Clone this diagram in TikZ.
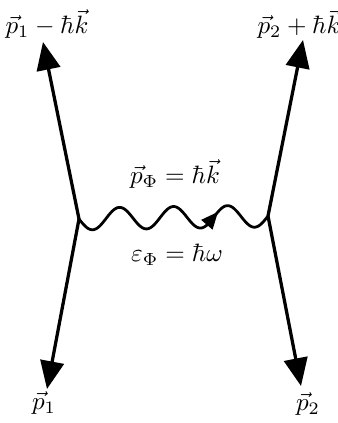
\documentclass[tikz,border=0pt]{standalone}
\usepackage{amsmath}
\usepackage{tikz}
\usetikzlibrary{arrows.meta, decorations.markings}
\tikzset{
  fline/.style={line width=1.3pt, -{Triangle[length=3.9mm, width=3.3mm]}},
  wline/.style={line width=1.1pt, line join=round},
  wtip/.style={postaction={decorate}, decoration={markings,
               mark=at position 0.74 with {\arrow{Triangle[length=2.4mm, width=2mm]}}}},
  plabel/.style={inner sep=1pt, font=\normalsize},
}

\begin{document}
\begin{tikzpicture}[x=0.014cm, y=-0.014cm]
\useasboundingbox (0,0) rectangle (338,423);
% the two vertices
\coordinate (v1) at (79,219);
\coordinate (v2) at (268,216);
% arrow tips
\coordinate (t1) at (43,42);
\coordinate (t2) at (303,40);
\coordinate (t3) at (47,389);
\coordinate (t4) at (301,386);
% labels
\node[plabel] (l1) at (47,24) {$\vec p_1 - \hbar\vec k$};
\node[plabel] (l2) at (299,24) {$\vec p_2 + \hbar\vec k$};
\node[plabel] (l3) at (44,403) {$\vec p_1$};
\node[plabel] (l4) at (308,404) {$\vec p_2$};
\node[plabel] (lp) at (175,174) {$\vec p_\Phi = \hbar\vec k$};
\node[plabel] (le) at (177,255) {$\varepsilon_\Phi = \hbar\omega$};
% particle lines
\draw[fline] (v1) -- (t1);
\draw[fline] (v1) -- (t3);
\draw[fline] (v2) -- (t2);
\draw[fline] (v2) -- (t4);
% exchanged photon
\begin{scope}[shift={(v1)}]
\draw[wline, wtip] plot[domain=0:189, samples=120]
  (\x, {11*sin(\x/54*360) - 3*\x/189});
\end{scope}
\end{tikzpicture}
\end{document}
